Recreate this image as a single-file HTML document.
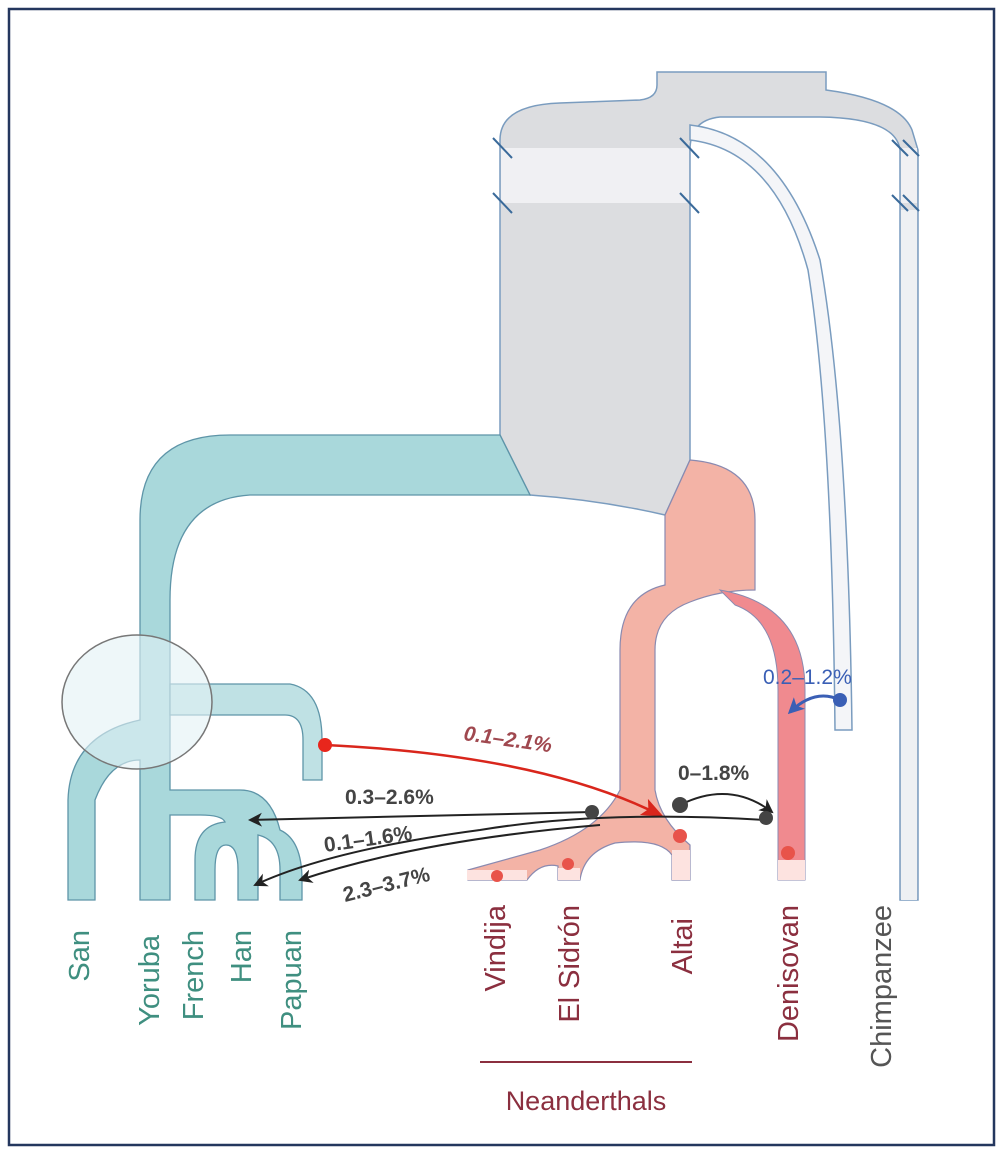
<!DOCTYPE html>
<html><head><meta charset="utf-8"><style>
html,body{margin:0;padding:0;background:#fff}
svg{display:block}
text{font-family:"Liberation Sans",sans-serif}
</style></head><body>
<svg width="1003" height="1154" viewBox="0 0 1003 1154" xmlns="http://www.w3.org/2000/svg">
<defs>
<marker id="ak" markerWidth="14" markerHeight="14" refX="12" refY="7" orient="auto" markerUnits="userSpaceOnUse" viewBox="0 0 14 14"><path d="M0,0 L14,7 L0,14 L4,7Z" fill="#222"/></marker>
<marker id="ar" markerWidth="22" markerHeight="22" refX="18" refY="11" orient="auto" markerUnits="userSpaceOnUse" viewBox="0 0 22 22"><path d="M0,2 L22,11 L0,20 L5,11Z" fill="#d9261c"/></marker>
<marker id="ab" markerWidth="16" markerHeight="16" refX="13" refY="8" orient="auto" markerUnits="userSpaceOnUse" viewBox="0 0 16 16"><path d="M0,0 L16,8 L0,16 L4,8Z" fill="#3a5fb5"/></marker>
</defs>
<rect x="0" y="0" width="1003" height="1154" fill="#fff"/>
<rect x="9" y="9" width="985" height="1136" fill="none" stroke="#24375e" stroke-width="2.5"/>

<!-- grey ancestral -->
<path d="M657,72 H826 V90 Q900,100 912,130 L918,150 V900 H900 V150 Q896,118 820,117 H720 Q690,120 690,150 V460 L665,515 Q600,500 530,495 L500,435 V140 Q500,105 560,103 L640,100 Q657,98 657,85Z" fill="#dcdde0" stroke="#7a9cbf" stroke-width="1.5"/>
<rect x="501" y="148" width="188" height="55" fill="#f0f0f3"/>
<rect x="901" y="148" width="16" height="55" fill="#f0f0f3"/>
<rect x="901" y="210" width="16" height="690" fill="#eef0f3"/>
<!-- ghost lineage -->
<path d="M690,125 Q780,135 820,260 Q848,420 852,730 H835 Q832,420 808,270 Q775,150 690,140Z" fill="#f4f5f8" stroke="#7a9cbf" stroke-width="1.5"/>
<g stroke="#3a6a9a" stroke-width="2">
<line x1="493" y1="138" x2="512" y2="158"/><line x1="493" y1="193" x2="512" y2="213"/>
<line x1="680" y1="138" x2="699" y2="158"/><line x1="680" y1="193" x2="699" y2="213"/>
<line x1="892" y1="140" x2="908" y2="156"/><line x1="903" y1="140" x2="919" y2="156"/>
<line x1="892" y1="195" x2="908" y2="211"/><line x1="903" y1="195" x2="919" y2="211"/>
</g>

<!-- teal -->
<path d="M230,435 H500 L530,495 H250 Q170,500 170,600 V790 H240 Q270,790 280,830 Q302,840 302,880 V900 H280 V870 Q280,840 258,835 V900 H238 V870 Q238,845 226,845 Q215,845 215,870 V900 H195 V860 Q195,825 225,822 Q222,815 200,815 H170 V900 H140 V760 Q110,760 95,800 V900 H68 V800 Q70,735 140,720 V520 Q140,435 230,435Z" fill="#a9d8db" stroke="#5e95a8" stroke-width="1.3"/>
<path d="M170,684 H290 Q322,690 322,740 V780 H303 V740 Q303,715 285,715 H170Z" fill="#bfe1e4" stroke="#5e95a8" stroke-width="1.3"/>
<ellipse cx="137" cy="702" rx="75" ry="67" fill="#e3f2f5" fill-opacity="0.6" stroke="#777" stroke-width="1.5"/>

<!-- pink neanderthal -->
<path d="M690,460 L665,515 V585 Q620,595 620,650 V790 Q600,830 540,850 Q490,864 468,870 V880 H527 Q540,862 558,866 V880 H580 Q584,852 615,843 Q660,838 672,855 V880 H690 V845 Q660,820 655,790 V650 Q655,615 690,602 Q720,590 755,590 V520 Q755,465 690,460Z" fill="#f3b3a6" stroke="#8a8ab0" stroke-width="1.2"/>
<path d="M720,590 Q805,605 805,690 V880 H778 V690 Q778,620 735,605Z" fill="#f08a8f" stroke="#8a8ab0" stroke-width="1"/>
<rect x="467" y="870" width="60" height="10" fill="#fde3e0"/>
<rect x="558" y="868" width="22" height="12" fill="#fde3e0"/>
<rect x="672" y="850" width="18" height="30" fill="#fde3e0"/>
<rect x="778" y="860" width="27" height="20" fill="#fde3e0"/>
<circle cx="497" cy="876" r="6" fill="#e8534a"/>
<circle cx="568" cy="864" r="6" fill="#e8534a"/>
<circle cx="680" cy="836" r="7" fill="#e8534a"/>
<circle cx="788" cy="853" r="7" fill="#e8534a"/>

<!-- arrows -->
<path d="M325,745 Q540,755 660,815" fill="none" stroke="#d9261c" stroke-width="2.5" marker-end="url(#ar)"/>
<circle cx="325" cy="745" r="7" fill="#e8261c"/>
<path d="M592,812 L250,820" fill="none" stroke="#222" stroke-width="2" marker-end="url(#ak)"/>
<path d="M765,820 Q600,810 480,830 Q330,850 255,885" fill="none" stroke="#222" stroke-width="2" marker-end="url(#ak)"/>
<path d="M600,825 Q420,840 300,880" fill="none" stroke="#222" stroke-width="2" marker-end="url(#ak)"/>
<path d="M680,805 Q730,780 772,812" fill="none" stroke="#222" stroke-width="2" marker-end="url(#ak)"/>
<circle cx="592" cy="812" r="7" fill="#444"/>
<circle cx="680" cy="805" r="8" fill="#444"/>
<circle cx="766" cy="818" r="7" fill="#444"/>
<path d="M840,700 Q815,688 790,712" fill="none" stroke="#3a5fb5" stroke-width="3" marker-end="url(#ab)"/>
<circle cx="840" cy="700" r="7" fill="#3a5fb5"/>

<!-- arrow labels -->
<text x="463" y="740" font-size="21" font-style="italic" font-weight="bold" fill="#a0484f" transform="rotate(8 463 740)">0.1–2.1%</text>
<text x="345" y="804" font-size="21" font-weight="bold" fill="#444">0.3–2.6%</text>
<text x="325" y="852" font-size="21" font-weight="bold" fill="#444" transform="rotate(-8 325 852)">0.1–1.6%</text>
<text x="345" y="902" font-size="21" font-weight="bold" fill="#444" transform="rotate(-14 345 902)">2.3–3.7%</text>
<text x="678" y="780" font-size="21" font-weight="bold" fill="#444">0–1.8%</text>
<text x="763" y="684" font-size="21" fill="#3a5fb5">0.2–1.2%</text>

<!-- labels -->
<g font-size="29">
<text transform="translate(89,930) rotate(-90)" text-anchor="end" fill="#3f8f80">San</text>
<text transform="translate(159,935) rotate(-90)" text-anchor="end" fill="#3f8f80">Yoruba</text>
<text transform="translate(203,930) rotate(-90)" text-anchor="end" fill="#3f8f80">French</text>
<text transform="translate(251,930) rotate(-90)" text-anchor="end" fill="#3f8f80">Han</text>
<text transform="translate(301,930) rotate(-90)" text-anchor="end" fill="#3f8f80">Papuan</text>
<text transform="translate(505,905) rotate(-90)" text-anchor="end" fill="#8b2f3f">Vindija</text>
<text transform="translate(579,905) rotate(-90)" text-anchor="end" fill="#8b2f3f">El Sidrón</text>
<text transform="translate(692,918) rotate(-90)" text-anchor="end" fill="#8b2f3f">Altai</text>
<text transform="translate(798,905) rotate(-90)" text-anchor="end" fill="#8b2f3f">Denisovan</text>
<text transform="translate(891,905) rotate(-90)" text-anchor="end" fill="#555">Chimpanzee</text>
</g>
<line x1="480" y1="1062" x2="692" y2="1062" stroke="#8b2f3f" stroke-width="2"/>
<text x="586" y="1110" font-size="27" text-anchor="middle" fill="#8b2f3f">Neanderthals</text>
</svg>
</body></html>
